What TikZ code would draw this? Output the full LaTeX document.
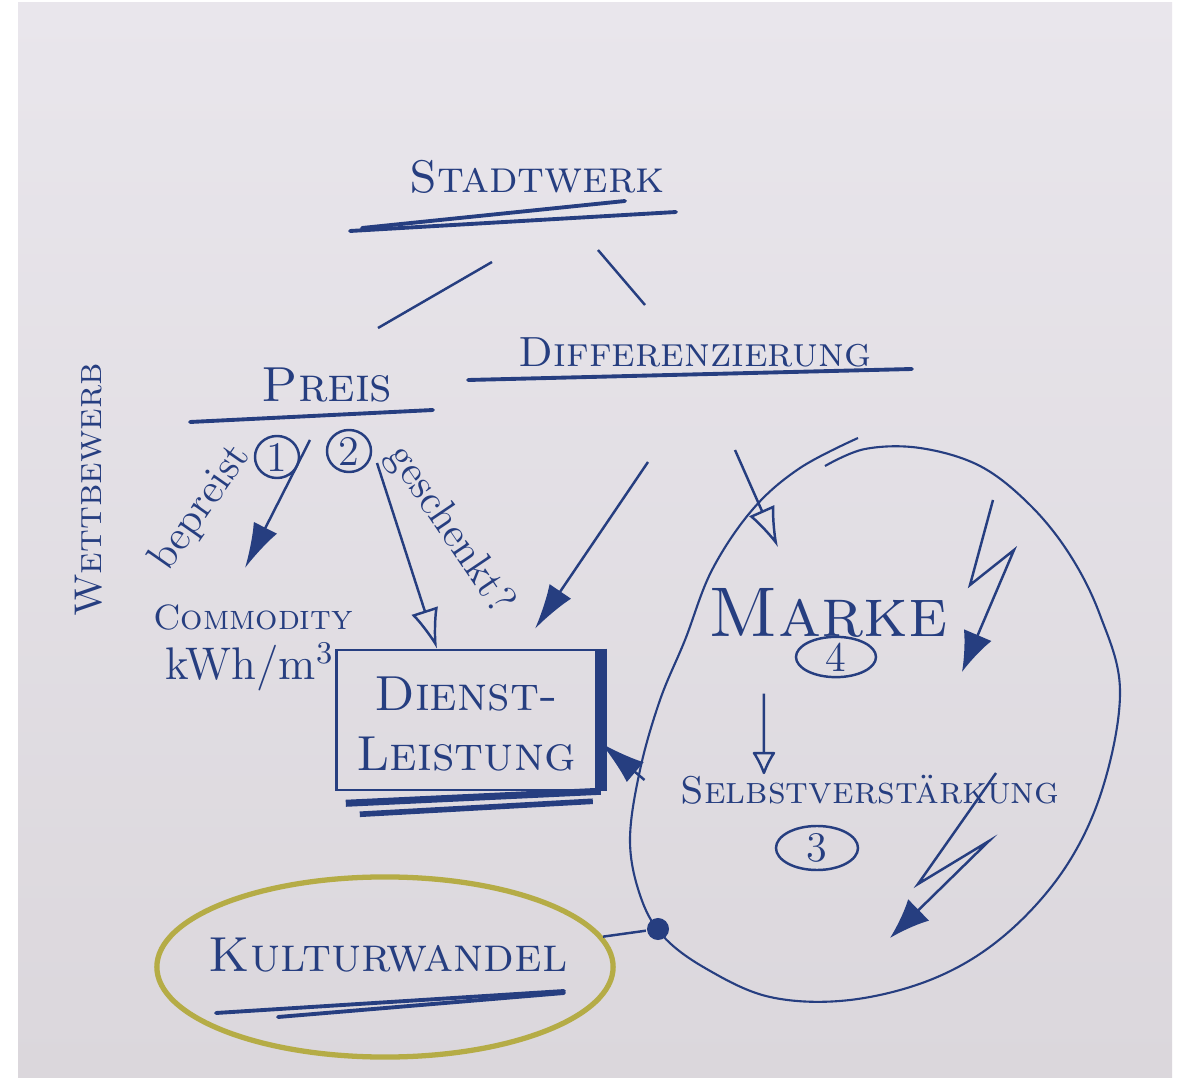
\documentclass[tikz,border=0pt]{standalone}
\usepackage{amsmath}
\usetikzlibrary{arrows.meta,shapes.geometric,positioning}
\definecolor{ink}{RGB}{38,62,128}
\definecolor{paper}{RGB}{233,230,236}
\definecolor{paperlow}{RGB}{219,215,220}
\definecolor{olive}{RGB}{181,172,70}

\begin{document}
\begin{tikzpicture}[x=0.01cm, y=-0.01cm, ink, line width=0.7pt,
  word/.style={text=ink, inner sep=0pt, font=\scshape\fontsize{14}{17}\selectfont},
  hand/.style={text=ink, inner sep=0pt, font=\fontsize{12}{14}\selectfont},
  num/.style={ellipse, draw=ink, line width=0.7pt, inner sep=0pt, minimum width=0.44cm, minimum height=0.42cm, text=ink, font=\fontsize{12}{14}\selectfont},
  fat/.style={-{Latex[length=4.5mm, width=2.6mm]}},
  hollow/.style={-{Latex[open, length=4mm, width=2.8mm]}},
  bolt/.style={-{Latex[length=4mm, width=3mm]}},
  uline/.style={line width=1.1pt, line cap=round},]
  % paper
  \fill[white] (0,0) rectangle (1181,1082);
  \shade[top color=paper, bottom color=paperlow] (18,3) rectangle (1172,1077);

  % top of the tree
  \node[word, font=\scshape\fontsize{13}{16}\selectfont] (stadt) at (537,177) {Stadtwerk};
  \draw[uline] (stadt) ++(-187,54) -- ++(326,-19);
  \draw[uline] (stadt) ++(-175,51) -- ++(263,-27);
  \node[word, font=\scshape\fontsize{14}{17}\selectfont] (preis) at (327,385) {Preis};
  \draw[uline] (preis) ++(-137,37) -- ++(243,-12);
  \node[word, font=\scshape\fontsize{12}{15}\selectfont] (diff) at (695,352) {Differenzierung};
  \draw[uline] (diff) ++(-227,28) -- ++(444,-11);
  \draw (stadt) ++(-45,85) -- ++(-114,66);
  \draw (stadt) ++(61,73) -- ++(47,55);

  \node[word, font=\scshape\fontsize{11}{13}\selectfont, rotate=90] (wett) at (89,490) {Wettbewerb};

  % Preis side
  \node[num] (eins) at (277,457) {1};
  \node[num] (zwei) at (349,451) {2};
  \node[hand, rotate=55] (bep) at (201,508) {bepreist};
  \node[hand, rotate=-56] (gesch) at (450,530) {geschenkt?};
  \node[word, font=\scshape\fontsize{10}{12}\selectfont] (comm) at (253,617) {Commodity};
  \node[hand, font=\fontsize{13}{16}\selectfont] (kwh) at (250,667) {kWh/m$^3$};

  \node[draw=ink, minimum width=2.63cm, minimum height=1.4cm] (box) at (468,720) {};
  \draw[line width=3.5pt] (box.north east) -- (box.south east);
  \draw[line width=2pt] (box.south east) -- ++(-255,12);
  \draw[line width=1.6pt] (box.south east) ++(-8,10) -- ++(-233,13);
  \node[word, align=center] (dienst) at (466,724) {Dienst-\\Leistung};

  \draw[fat] (eins) ++(33,-17) -- ++(-65,128);
  \draw[hollow] (zwei) ++(28,12) -- ([xshift=-0.31cm]box.north);
  \draw[fat] (diff) ++(-47,110) -- ([xshift=0.67cm, yshift=0.2cm]box.north);

  % Differenzierung side
  \node[word, font=\scshape\fontsize{20}{24}\selectfont] (marke) at (828,613) {Marke};
  \node[num, minimum width=0.8cm, minimum height=0.4cm] (vier) at (836,657) {4};
  \node[word, font=\scshape\fontsize{11}{13}\selectfont] (selbst) at (870,790) {Selbstverst\"arkung};
  \node[num, minimum width=0.82cm, minimum height=0.44cm] (drei) at (817,848) {3};

  \draw[hollow] (diff) ++(40,98) -- ([xshift=-0.5cm, yshift=0.4cm]marke.north);
  \draw[-{Latex[open, round, length=2.5mm, width=2.5mm]}] ([xshift=-0.64cm]marke.south) ++(0,55) -- ([xshift=-1.06cm]selbst.north);
  \draw[fat] (selbst.west) ++(-35,-10) -- ([yshift=-0.23cm]box.east);

  \draw[bolt] (993,500) -- (970,585) -- (1014,550) -- (962,672);
  \draw[bolt] (996,773) -- (918,884) -- (989,841) -- (890,938);

  \draw[line width=0.6pt] plot[smooth, tension=0.6] coordinates {(858,438) (800,468) (753,509) (712,570) (685,640) (660,700) (640,770) (630,840) (640,895) (662,935) (705,968) (770,997) (850,1000) (935,978) (1005,935) (1065,868) (1103,787) (1120,690) (1100,615) (1070,555) (1030,505) (980,466) (920,448) (865,449) (825,466)};

  % Kulturwandel
  \node[circle, fill=ink, inner sep=0pt, minimum size=0.22cm] (dot) at (658,929) {};
  \node[ellipse, draw=olive, line width=1.5pt, minimum width=4.56cm, minimum height=1.8cm] (ring) at (385,967) {};
  \node[word, font=\scshape\fontsize{14}{17}\selectfont] (kultur) at (388,955) {Kulturwandel};
  \draw[uline] (kultur) ++(-172,58) -- ++(348,-22);
  \draw[uline] (kultur) ++(-110,62) -- ++(286,-24);
  \draw (dot) -- (ring);
\end{tikzpicture}
\end{document}
